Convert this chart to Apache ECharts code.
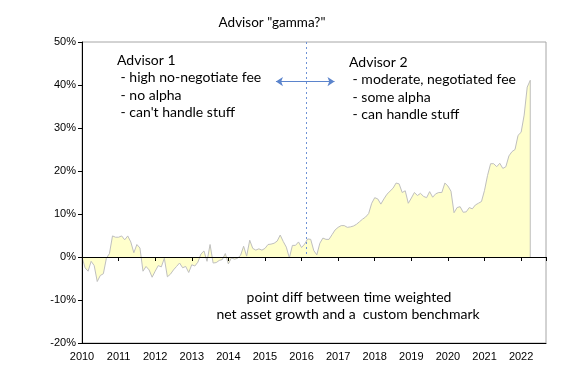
<!DOCTYPE html>
<html>
<head>
<meta charset="utf-8">
<script src="https://cdn.jsdelivr.net/npm/echarts@6/dist/echarts.min.js"></script>
<style>
html,body{margin:0;padding:0;background:#fff;}
#c{width:583px;height:392px;}
</style>
</head>
<body>
<div id="c"></div>
<script>
// Monthly series starting Jan 2010 (% point difference)
var startYear = 2010;
var values = [
  0, -2.5, -3.3, -1.0, -2.0, -5.7, -4.3, -3.9, -0.3, 0.8, 4.9, 4.6,
  4.6, 4.9, 4.0, 4.9, 3.5, 1.0, 2.9, 2.1, -3.3, -2.2, -3.0, -4.7,
  -3.3, -2.0, -2.3, -0.3, -4.6, -4.0, -3.0, -2.2, -1.4, -2.5, -2.2, -3.6,
  -1.8, -2.1, -1.2, 0.7, 1.4, -1.0, 2.9, -1.4, -1.3, -0.8, -0.6, 0.8,
  -1.6, -0.2, -0.5, -0.3, 0.4, 2.5, 0.2, 3.9, 2.0, 1.6, 1.9, 1.6,
  2.0, 2.9, 3.0, 3.2, 3.7, 5.1, 3.6, 2.3, -0.2, 2.7, 2.7, 3.5,
  2.2, 3.0, 4.2, 4.1, 1.5, 0.5, 3.2, 4.4, 4.1, 4.1, 5.2, 6.3,
  6.9, 7.3, 7.3, 6.9, 7.0, 7.2, 7.6, 8.2, 8.8, 9.3, 10.1, 12.5,
  13.8, 13.5, 12.3, 13.5, 14.6, 15.3, 16.0, 17.2, 17.0, 15.0, 15.4, 12.5,
  13.7, 15.0, 14.3, 14.8, 14.1, 13.8, 15.2, 13.9, 14.7, 15.0, 15.0, 17.2,
  16.5, 15.3, 10.3, 11.5, 11.7, 10.4, 10.5, 11.5, 11.2, 12.1, 12.5, 12.9,
  15.5, 19.0, 21.7, 21.7, 21.0, 21.8, 20.6, 21.0, 23.5, 24.5, 25.0, 28.3,
  29.0, 33.0, 39.5, 41.1
];
var yTicks = [-20, -10, 0, 10, 20, 30, 40, 50];
var xYears = [2010, 2011, 2012, 2013, 2014, 2015, 2016, 2017, 2018, 2019, 2020, 2021, 2022];
var titleText = 'Advisor "gamma?"';
var advisor1 = ['Advisor 1', ' - high no-negotiate fee', ' - no alpha', " - can't handle stuff"];
var advisor2 = ['Advisor 2', ' - moderate, negotiated fee', ' - some alpha', ' - can handle stuff'];
var noteLines = ['point diff between time weighted', 'net asset growth and a  custom benchmark'];
var switchDate = 2016.12;

var seriesData = values.map(function (v, i) { return [startYear + i / 12, v]; });
var last = seriesData[seriesData.length - 1];

var chart = echarts.init(document.getElementById('c'), null, {renderer: 'canvas'});
var lblFont = 'Liberation Sans';
var txtFont = 'Lato';

function textBlock(lines, x, y0, dy) {
  return lines.map(function (t, k) {
    return {type: 'text', z: 100,
      style: {text: t, x: x, y: y0 + k * dy, textVerticalAlign: 'middle', font: '14px ' + txtFont, fill: '#000'}};
  });
}

var graphics = []
  .concat(textBlock(advisor1, 117, 60.5, 17.4))
  .concat(textBlock(advisor2, 349, 62, 17.5));
graphics.push({type: 'text', z: 100, style: {text: titleText, x: 272, y: 23, textAlign: 'center', textVerticalAlign: 'middle', font: '13.5px ' + txtFont, fill: '#000'}});
graphics.push({type: 'text', z: 100, style: {text: noteLines[0], x: 349, y: 297, textAlign: 'center', textVerticalAlign: 'middle', font: '14px ' + txtFont, fill: '#000'}});
graphics.push({type: 'text', z: 100, style: {text: noteLines[1], x: 348, y: 314.5, textAlign: 'center', textVerticalAlign: 'middle', font: '14px ' + txtFont, fill: '#000'}});

chart.setOption({
  animation: false,
  backgroundColor: '#fff',
  grid: {left: 82, right: 37, top: 42, bottom: 49, show: true, borderColor: '#A6A6A6', borderWidth: 1, backgroundColor: 'transparent'},
  xAxis: [{
    type: 'value', min: 2010, max: 2022.68, interval: 1, position: 'bottom', z: 10,
    axisLine: {onZero: false, lineStyle: {color: '#000', width: 1}},
    axisTick: {show: false}, splitLine: {show: false},
    axisLabel: {margin: 8, color: '#000', fontFamily: lblFont, fontSize: 11, showMaxLabel: false,
      formatter: function (v) { return xYears.indexOf(Math.round(v)) >= 0 ? String(Math.round(v)) : ''; }}
  }, {
    type: 'value', min: 2010, max: 2022.68, interval: 1, position: 'top', z: 10,
    axisLine: {onZero: true, lineStyle: {color: '#000', width: 1}},
    axisTick: {show: true, inside: true, length: 4, lineStyle: {color: '#000'}},
    axisLabel: {show: false}, splitLine: {show: false}
  }],
  yAxis: {
    type: 'value', min: yTicks[0], max: yTicks[yTicks.length - 1], interval: 10, z: 10,
    axisLine: {show: true, lineStyle: {color: '#000', width: 1}},
    axisTick: {show: true, length: 4, lineStyle: {color: '#000'}},
    splitLine: {show: false},
    axisLabel: {margin: 6, color: '#000', fontFamily: lblFont, fontSize: 11, formatter: '{value}%'}
  },
  graphic: graphics,
  series: [{
    type: 'line', data: seriesData, showSymbol: false, symbol: 'none',
    lineStyle: {color: '#BFBFBF', width: 1},
    areaStyle: {color: '#FFFFCC', opacity: 1},
    markLine: {
      silent: true, animation: false,
      label: {show: false},
      data: [
        [{coord: [switchDate, 50], symbol: 'none', lineStyle: {color: '#6E93D6', type: [2, 3], width: 1}},
         {coord: [switchDate, 0], symbol: 'none'}],
        [{coord: [2015.3, 40.8], symbol: 'arrow', symbolSize: [7, 7], lineStyle: {color: '#5B84CC', type: 'solid', width: 1}},
         {coord: [2016.9, 40.8], symbol: 'arrow', symbolSize: [7, 7]}]
      ]
    }
  }, {
    type: 'line', data: [[last[0], 0], [last[0], last[1]]], symbol: 'none',
    lineStyle: {color: '#BFBFBF', width: 1}
  }]
});
</script>
</body>
</html>
